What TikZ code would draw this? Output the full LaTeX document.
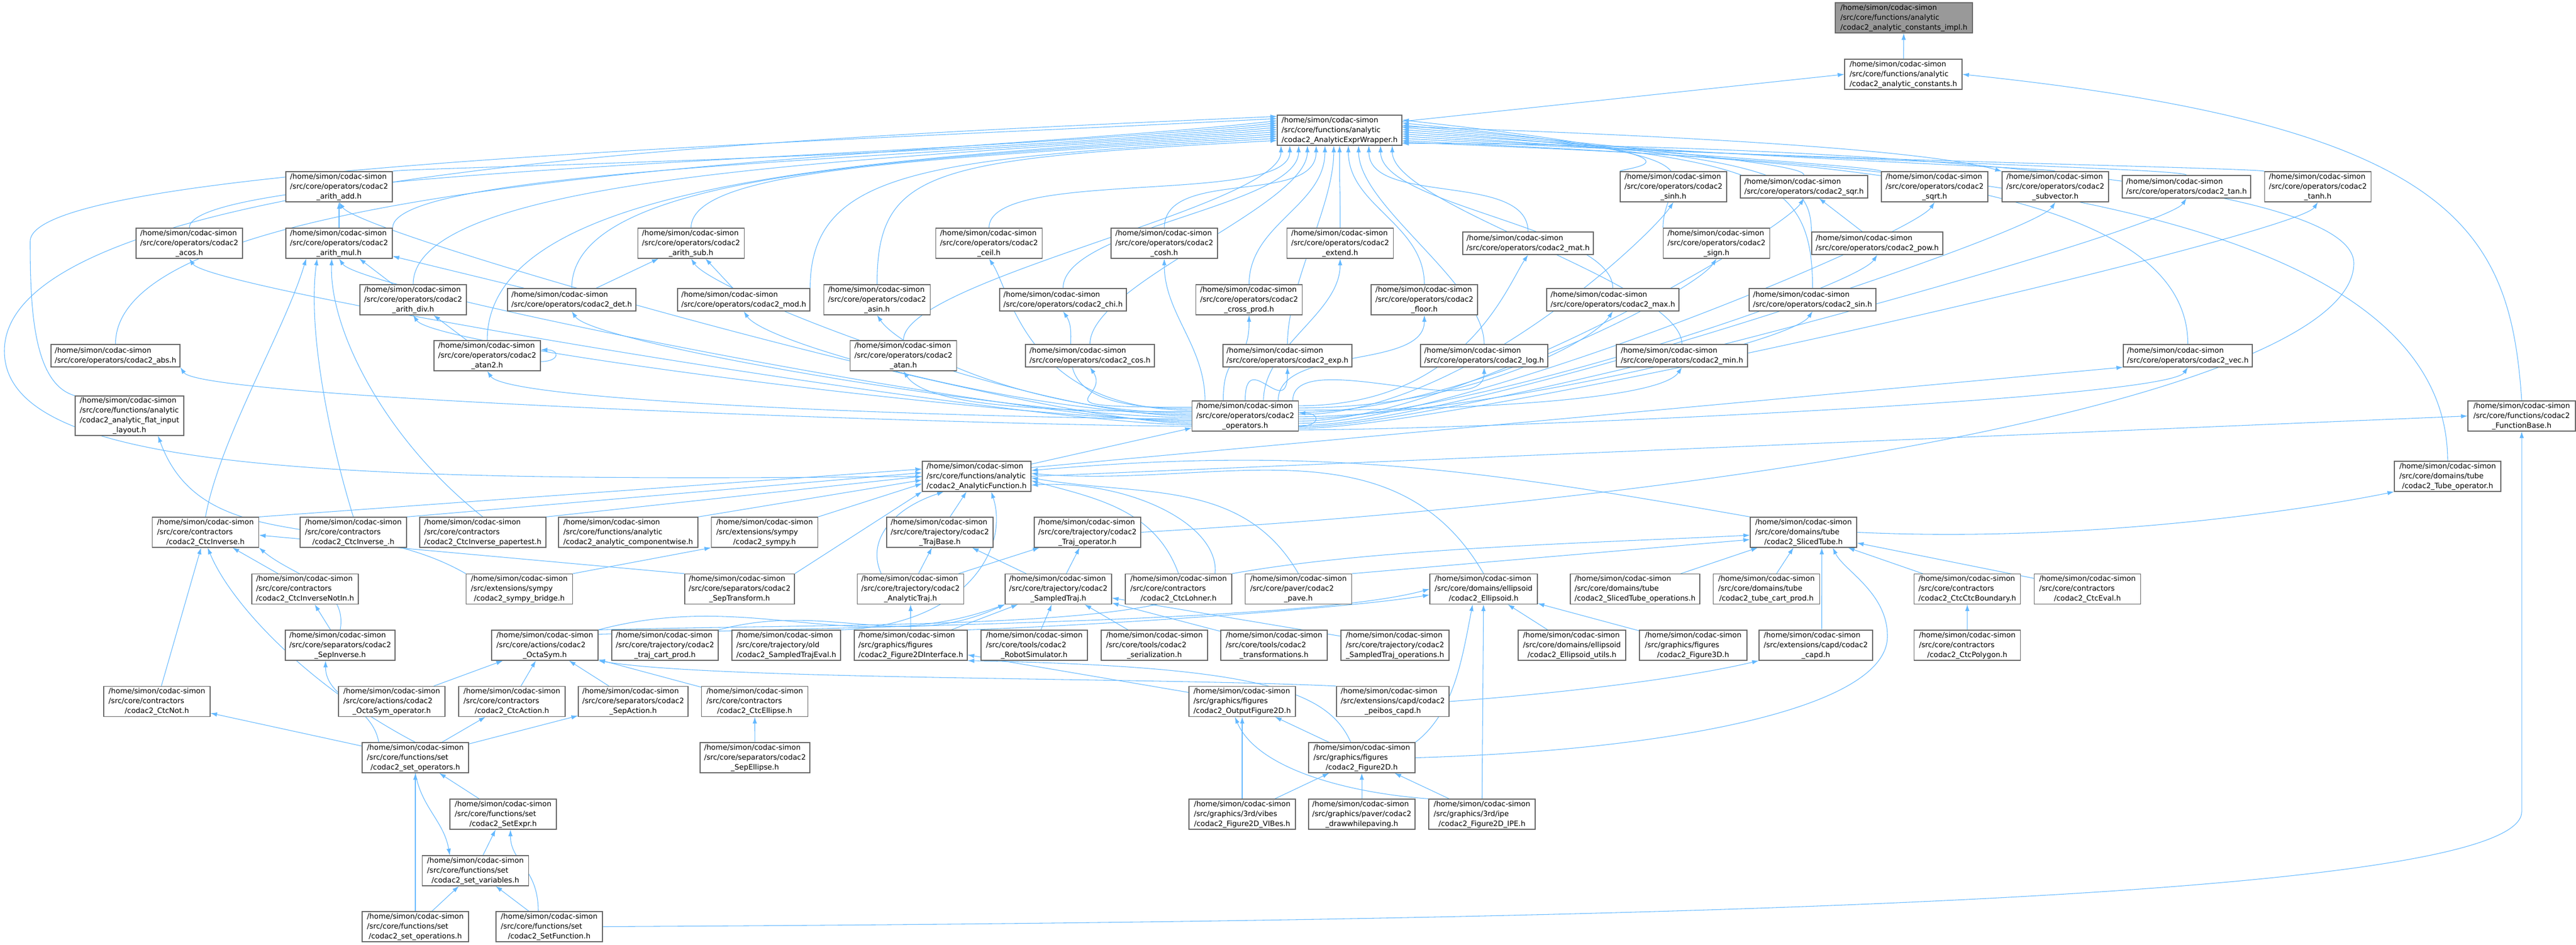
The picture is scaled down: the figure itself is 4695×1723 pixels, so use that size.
\documentclass[tikz,border=0pt]{standalone}
\usepackage{fontspec}
\setmainfont{DejaVu Sans}
\usetikzlibrary{arrows.meta, calc}
\definecolor{depblue}{HTML}{63B8FF}
\definecolor{boxgray}{HTML}{666666}
\newcommand{\depArrow}{{Latex[length=9pt, width=6pt]}}
\newcommand{\codachome}{/home/simon/codac-simon}
\newcommand{\flabel}[2]{\begin{tabular}{@{}l@{}}\codachome\\\detokenize{#1}\\\multicolumn{1}{@{}c@{}}{\detokenize{#2}}\end{tabular}}
\newcommand{\flabelii}[1]{\begin{tabular}{@{}l@{}}\codachome\\\detokenize{#1}\end{tabular}}
\pgfdeclarelayer{edges}
\pgfsetlayers{edges,main}
\tikzset{
	filebox/.style={draw=boxgray, fill=white, line width=0.9pt, inner xsep=2pt, inner ysep=0pt, minimum width=145.5pt, minimum height=41.25pt},
	twoline/.style={minimum height=30.75pt},
	boxw/.style={minimum width=#1*0.75pt},
	current/.style={fill=black!40},
	dep/.style={draw=depblue, line width=0.8pt, -\depArrow},
}

\begin{document}
\begin{tikzpicture}[x=0.75pt, y=-0.75pt, font=\fontsize{10}{13.5}\selectfont]
	\useasboundingbox (0,0) rectangle (4695,1723);

	% analytic core
	\node[filebox, current, boxw=250] (impl) at (3470,32.5) {\flabel{/src/core/functions/analytic}{/codac2_analytic_constants_impl.h}};
	\node[filebox, boxw=214] (consts) at (3469,135.5) {\flabel{/src/core/functions/analytic}{/codac2_analytic_constants.h}};
	\node[filebox, boxw=227] (wrap) at (2441.5,237.5) {\flabel{/src/core/functions/analytic}{/codac2_AnalyticExprWrapper.h}};

	% operators
	\node[filebox] (add) at (618,340.5) {\flabel{/src/core/operators/codac2}{_arith_add.h}};
	\node[filebox] (sinh) at (3050,340.5) {\flabel{/src/core/operators/codac2}{_sinh.h}};
	\node[filebox, twoline, boxw=232] (sqr) at (3288,340.5) {\flabelii{/src/core/operators/codac2_sqr.h}};
	\node[filebox] (sqrt) at (3526,340.5) {\flabel{/src/core/operators/codac2}{_sqrt.h}};
	\node[filebox] (subv) at (3746,340.5) {\flabel{/src/core/operators/codac2}{_subvector.h}};
	\node[filebox, twoline, boxw=234] (tan) at (3985,340.5) {\flabelii{/src/core/operators/codac2_tan.h}};
	\node[filebox] (tanh) at (4224.5,340.5) {\flabel{/src/core/operators/codac2}{_tanh.h}};

	\node[filebox] (acos) at (345,443.5) {\flabel{/src/core/operators/codac2}{_acos.h}};
	\node[filebox] (mul) at (618,443.5) {\flabel{/src/core/operators/codac2}{_arith_mul.h}};
	\node[filebox] (sub) at (1259.5,443.5) {\flabel{/src/core/operators/codac2}{_arith_sub.h}};
	\node[filebox] (ceil) at (1802.5,443.5) {\flabel{/src/core/operators/codac2}{_ceil.h}};
	\node[filebox] (cosh) at (2122,443.5) {\flabel{/src/core/operators/codac2}{_cosh.h}};
	\node[filebox] (extend) at (2442.5,443.5) {\flabel{/src/core/operators/codac2}{_extend.h}};
	\node[filebox, twoline, boxw=238] (mat) at (2785,443.5) {\flabelii{/src/core/operators/codac2_mat.h}};
	\node[filebox] (sign) at (3128.5,443.5) {\flabel{/src/core/operators/codac2}{_sign.h}};
	\node[filebox, twoline, boxw=239] (pow) at (3421.5,443.5) {\flabelii{/src/core/operators/codac2_pow.h}};

	\node[filebox] (div) at (753,546.5) {\flabel{/src/core/operators/codac2}{_arith_div.h}};
	\node[filebox, twoline, boxw=234] (det) at (1042,546.5) {\flabelii{/src/core/operators/codac2_det.h}};
	\node[filebox, twoline, boxw=241] (mod) at (1355.5,546.5) {\flabelii{/src/core/operators/codac2_mod.h}};
	\node[filebox] (asin) at (1598.5,546.5) {\flabel{/src/core/operators/codac2}{_asin.h}};
	\node[filebox, twoline, boxw=231] (chi) at (1937.5,546.5) {\flabelii{/src/core/operators/codac2_chi.h}};
	\node[filebox] (cross) at (2276.5,546.5) {\flabel{/src/core/operators/codac2}{_cross_prod.h}};
	\node[filebox] (floor) at (2596,546.5) {\flabel{/src/core/operators/codac2}{_floor.h}};
	\node[filebox, twoline, boxw=241] (max) at (2939.5,546.5) {\flabelii{/src/core/operators/codac2_max.h}};
	\node[filebox, twoline, boxw=231] (sin) at (3303.5,546.5) {\flabelii{/src/core/operators/codac2_sin.h}};

	\node[filebox, twoline, boxw=235] (abs) at (210.5,648.5) {\flabelii{/src/core/operators/codac2_abs.h}};
	\node[filebox] (atan2) at (888,648.5) {\flabel{/src/core/operators/codac2}{_atan2.h}};
	\node[filebox] (atan) at (1646.5,648.5) {\flabel{/src/core/operators/codac2}{_atan.h}};
	\node[filebox, twoline, boxw=235] (cos) at (1986.5,648.5) {\flabelii{/src/core/operators/codac2_cos.h}};
	\node[filebox, twoline, boxw=235] (exp) at (2346.5,648.5) {\flabelii{/src/core/operators/codac2_exp.h}};
	\node[filebox, twoline, boxw=232] (log) at (2705,648.5) {\flabelii{/src/core/operators/codac2_log.h}};
	\node[filebox, twoline, boxw=239] (min) at (3065.5,648.5) {\flabelii{/src/core/operators/codac2_min.h}};
	\node[filebox, twoline, boxw=235] (vec) at (3987.5,648.5) {\flabelii{/src/core/operators/codac2_vec.h}};

	\node[filebox, boxw=198, minimum height=52.5pt] (flat) at (236,758) {\begin{tabular}{@{}l@{}}\codachome\\/src/core/functions/analytic\\\detokenize{/codac2_analytic_flat_input}\\\multicolumn{1}{@{}c@{}}{\detokenize{_layout.h}}\end{tabular}};
	\node[filebox] (ops) at (2269.5,758.5) {\flabel{/src/core/operators/codac2}{_operators.h}};
	\node[filebox, boxw=196] (fbase) at (4596,758.5) {\flabel{/src/core/functions/codac2}{_FunctionBase.h}};

	\node[filebox, boxw=198] (af) at (1780,868.5) {\flabel{/src/core/functions/analytic}{/codac2_AnalyticFunction.h}};
	\node[filebox] (tubeop) at (4461,868.5) {\flabel{/src/core/domains/tube}{/codac2_Tube_operator.h}};

	% contractors, trajectories, domains
	\node[filebox] (cinv) at (374.5,970.5) {\flabel{/src/core/contractors}{/codac2_CtcInverse.h}};
	\node[filebox] (cinvu) at (644,970.5) {\flabel{/src/core/contractors}{/codac2_CtcInverse_.h}};
	\node[filebox, boxw=230] (paper) at (880,970.5) {\flabel{/src/core/contractors}{/codac2_CtcInverse_papertest.h}};
	\node[filebox, boxw=254] (compw) at (1145,970.5) {\flabel{/src/core/functions/analytic}{/codac2_analytic_componentwise.h}};
	\node[filebox] (sympy) at (1393.5,970.5) {\flabel{/src/extensions/sympy}{/codac2_sympy.h}};
	\node[filebox] (tbase) at (1713,970.5) {\flabel{/src/core/trajectory/codac2}{_TrajBase.h}};
	\node[filebox] (trajop) at (1982,970.5) {\flabel{/src/core/trajectory/codac2}{_Traj_operator.h}};
	\node[filebox] (stube) at (3287,970.5) {\flabel{/src/core/domains/tube}{/codac2_SlicedTube.h}};

	\node[filebox] (cinvnot) at (556,1074) {\flabel{/src/core/contractors}{/codac2_CtcInverseNotIn.h}};
	\node[filebox] (sbridge) at (946.5,1074) {\flabel{/src/extensions/sympy}{/codac2_sympy_bridge.h}};
	\node[filebox, boxw=200] (sept) at (1348,1074) {\flabel{/src/core/separators/codac2}{_SepTransform.h}};
	\node[filebox] (atraj) at (1659.5,1074) {\flabel{/src/core/trajectory/codac2}{_AnalyticTraj.h}};
	\node[filebox] (straj) at (1929,1074) {\flabel{/src/core/trajectory/codac2}{_SampledTraj.h}};
	\node[filebox] (lohner) at (2148,1074) {\flabel{/src/core/contractors}{/codac2_CtcLohner.h}};
	\node[filebox] (pave) at (2366.5,1074) {\flabel{/src/core/paver/codac2}{_pave.h}};
	\node[filebox, boxw=196] (ellip) at (2704,1074) {\flabel{/src/core/domains/ellipsoid}{/codac2_Ellipsoid.h}};
	\node[filebox, boxw=236] (stubeops) at (2980,1074) {\flabel{/src/core/domains/tube}{/codac2_SlicedTube_operations.h}};
	\node[filebox] (tcartp) at (3219.5,1074) {\flabel{/src/core/domains/tube}{/codac2_tube_cart_prod.h}};
	\node[filebox] (cbound) at (3585.5,1074) {\flabel{/src/core/contractors}{/codac2_CtcCtcBoundary.h}};
	\node[filebox] (ceval) at (3804.5,1074) {\flabel{/src/core/contractors}{/codac2_CtcEval.h}};

	\node[filebox, boxw=200] (sepinv) at (620,1176.5) {\flabel{/src/core/separators/codac2}{_SepInverse.h}};
	\node[filebox] (octa) at (993,1176.5) {\flabel{/src/core/actions/codac2}{_OctaSym.h}};
	\node[filebox] (tcart) at (1212,1176.5) {\flabel{/src/core/trajectory/codac2}{_traj_cart_prod.h}};
	\node[filebox, boxw=198] (steval) at (1433,1176.5) {\flabel{/src/core/trajectory/old}{/codac2_SampledTrajEval.h}};
	\node[filebox, boxw=206] (fig2di) at (1660,1176.5) {\flabel{/src/graphics/figures}{/codac2_Figure2DInterface.h}};
	\node[filebox] (robot) at (1885,1176.5) {\flabel{/src/core/tools/codac2}{_RobotSimulator.h}};
	\node[filebox] (serial) at (2104,1176.5) {\flabel{/src/core/tools/codac2}{_serialization.h}};
	\node[filebox] (transf) at (2322,1176.5) {\flabel{/src/core/tools/codac2}{_transformations.h}};
	\node[filebox, boxw=197] (stops) at (2542.5,1176.5) {\flabel{/src/core/trajectory/codac2}{_SampledTraj_operations.h}};
	\node[filebox, boxw=196] (eutils) at (2865,1176.5) {\flabel{/src/core/domains/ellipsoid}{/codac2_Ellipsoid_utils.h}};
	\node[filebox, boxw=196] (fig3d) at (3086,1176.5) {\flabel{/src/graphics/figures}{/codac2_Figure3D.h}};
	\node[filebox, boxw=207] (capd) at (3309.5,1176.5) {\flabel{/src/extensions/capd/codac2}{_capd.h}};
	\node[filebox] (cpoly) at (3585.5,1176.5) {\flabel{/src/core/contractors}{/codac2_CtcPolygon.h}};

	\node[filebox] (ctcnot) at (286,1279) {\flabel{/src/core/contractors}{/codac2_CtcNot.h}};
	\node[filebox] (octaop) at (714,1279) {\flabel{/src/core/actions/codac2}{_OctaSym_operator.h}};
	\node[filebox] (ctcact) at (933,1279) {\flabel{/src/core/contractors}{/codac2_CtcAction.h}};
	\node[filebox, boxw=200] (sepact) at (1154,1279) {\flabel{/src/core/separators/codac2}{_SepAction.h}};
	\node[filebox] (ctcell) at (1375.5,1279) {\flabel{/src/core/contractors}{/codac2_CtcEllipse.h}};
	\node[filebox] (outfig) at (2264,1279) {\flabel{/src/graphics/figures}{/codac2_OutputFigure2D.h}};
	\node[filebox, boxw=205] (peibos) at (2538.5,1279) {\flabel{/src/extensions/capd/codac2}{_peibos_capd.h}};

	\node[filebox] (setops) at (757,1381.5) {\flabel{/src/core/functions/set}{/codac2_set_operators.h}};
	\node[filebox, boxw=200] (sepell) at (1376,1381.5) {\flabel{/src/core/separators/codac2}{_SepEllipse.h}};
	\node[filebox] (fig2d) at (2482,1381.5) {\flabel{/src/graphics/figures}{/codac2_Figure2D.h}};

	\node[filebox] (setexpr) at (917,1484.5) {\flabel{/src/core/functions/set}{/codac2_SetExpr.h}};
	\node[filebox] (vibes) at (2264,1484.5) {\flabel{/src/graphics/3rd/vibes}{/codac2_Figure2D_VIBes.h}};
	\node[filebox] (dwp) at (2482,1484.5) {\flabel{/src/graphics/paver/codac2}{_drawwhilepaving.h}};
	\node[filebox] (ipe) at (2701,1484.5) {\flabel{/src/graphics/3rd/ipe}{/codac2_Figure2D_IPE.h}};

	\node[filebox] (setvars) at (866.5,1587.5) {\flabel{/src/core/functions/set}{/codac2_set_variables.h}};
	\node[filebox] (setopn) at (757,1689.5) {\flabel{/src/core/functions/set}{/codac2_set_operations.h}};
	\node[filebox] (setfunc) at (1001,1689.5) {\flabel{/src/core/functions/set}{/codac2_SetFunction.h}};

	\begin{pgfonlayer}{edges}
		% top of the graph
		\draw[dep] (consts) -- (impl);
		\draw[dep] ([yshift=12pt]wrap.east) -- (consts.west);
		\draw[dep] (fbase.north) .. controls (4575,420) and (4480,230) .. (consts.east);

		% includers of the expression wrapper
		\draw[dep] (flat.north west) .. controls (60,700) and (55,560) .. (55,440) .. controls (55,300) and (1500,260) .. ([yshift=16pt]wrap.west);
		\draw[dep] (af.west) .. controls (600,880) and (8,860) .. (8,640) .. controls (8,300) and (1500,250) .. ([yshift=19pt]wrap.west);
		\foreach \child/\anc/\dy in {abs/north/13, acos/north/10, add/north east/7, mul/north east/4, div/north/1, atan2/north/-2, det/north/-5, sub/north/-8, mod/north east/-11, asin/north/-14} {
			\draw[dep] (\child.\anc) .. controls (\child.\anc |- 0,306) and (1700,290) .. ([yshift=\dy pt]wrap.west);
		}
		\foreach \child/\dx in {atan/-80, ceil/-68, chi/-56, cos/-44, cosh/-32, cross/-20, exp/-8, extend/0, floor/12, log/26, mat/40, max/56, min/72} {
			\draw[dep] (\child.north) .. controls +(0,-110) and +(0,110) .. ([xshift=\dx pt]wrap.south);
		}
		\foreach \child/\anc/\dy in {sinh/north west/14, sign/north west/10, sqr/north/7, pow/north west/4, sin/north/1, subv/north/-2, sqrt/north west/-5, tan/north/-8, tanh/north west/-11, vec/north/-14, tubeop/north/-16} {
			\draw[dep] (\child.\anc) .. controls (\child.\anc |- 0,306) and (3200,290) .. ([yshift=\dy pt]wrap.east);
		}
		\draw[dep] ([yshift=5pt]wrap.east) .. controls (3000,245) and (3500,270) .. (subv.north west);
		\draw[dep] (trajop.east) .. controls (3300,900) and (4290,700) .. (4290,480) .. controls (4290,320) and (3300,262) .. ([yshift=-18pt]wrap.east);

		% the operators header
		\foreach \child/\anc/\dy in {abs/south east/-14, acos/south/-12, add/south/-10, mul/south/-8, div/south/-6, atan2/south/-4, det/south/-2, sub/south/0, mod/south/2, asin/south/4, atan/south/6, ceil/south/8, chi/south/10, cos/south/12} {
			\draw[dep] ([yshift=\dy pt]ops.west) .. controls +(-300,0) and +(40,60) .. (\child.\anc);
		}
		\foreach \child/\dy in {mat/14, max/11, min/8, sign/5, sinh/2, sin/-1, pow/-4, sqr/-7, sqrt/-10, subv/-13, tan/-15, tanh/-17, vec/-19} {
			\draw[dep] ([yshift=\dy pt]ops.east) .. controls +(300,0) and +(-40,60) .. (\child.south);
		}
		\foreach \child/\dx in {cosh/-55, cross/-30, exp/0, extend/25, floor/45, log/65} {
			\draw[dep] ([xshift=\dx pt]ops.north) .. controls +(0,-100) and +(0,100) .. (\child.south);
		}
		\draw[dep] ([yshift=-14pt]ops.east) .. controls +(40,0) and +(40,0) .. ([yshift=4pt]ops.east);

		% arithmetic
		\foreach \child/\parent in {mul/add, div/mul, det/mul, det/sub, mod/sub, atan2/div, pow/sqr} {
			\draw[dep] (\child) -- (\parent);
		}
		\draw[dep] ([yshift=-8pt]atan2.east) .. controls +(35,0) and +(35,0) .. ([yshift=8pt]atan2.east);
		\draw[dep] (cinv.north) .. controls (400,800) and (520,600) .. ([xshift=-45pt]mul.south);
		\draw[dep] (cinvu.north) .. controls (600,800) and (560,600) .. ([xshift=-30pt]mul.south);
		\draw[dep] (paper.north) .. controls (700,800) and (600,600) .. ([xshift=-10pt]mul.south);

		% analytic functions
		\draw[dep] (af) -- (ops);
		\draw[dep] (af.east) -- (fbase.west);
		\draw[dep] ([yshift=12pt]af.east) -- (vec.south west);
		\foreach \child/\dy in {cinv/10, cinvu/5, paper/0, compw/-5, sympy/-10} {
			\draw[dep] (\child.north east) -- ([yshift=\dy pt]af.west);
		}
		\draw[dep] (tbase) -- (af);
		\draw[dep] (sept.north east) -- (af.south west);
		\draw[dep] ([xshift=-40pt]atraj.north) .. controls (1580,990) and (1620,930) .. ([xshift=-45pt]af.south);
		\draw[dep] (steval.north east) .. controls (1760,1140) and (1840,1000) .. ([xshift=20pt]af.south);
		\draw[dep] (octa.north east) .. controls (1600,1135) and (2215,1150) .. (2215,1040) .. controls (2215,950) and (2050,875) .. ([yshift=-12pt]af.east);
		\draw[dep] (lohner.north) to[out=110, in=-15] ([yshift=-6pt]af.east);
		\draw[dep] (pave.north) to[out=120, in=-10] ([yshift=-2pt]af.east);
		\draw[dep] (ellip.north) to[out=120, in=-5] ([yshift=4pt]af.east);
		\draw[dep] (stube.north west) to[out=170, in=5] ([yshift=8pt]af.east);

		% contractors and separators
		\foreach \child/\parent in {ctcnot/cinv, cinvnot/cinv, sepinv/cinvnot, setops/ctcnot, setops/ctcact, setops/sepact, octaop/octa, ctcact/octa, sepact/octa, ctcell/octa, sepell/ctcell, setexpr/setops, setvars/setexpr, setopn/setops, setopn/setvars, setfunc/setvars} {
			\draw[dep] (\child) -- (\parent);
		}
		\draw[dep] (setops.north) .. controls (560,1250) and (420,1100) .. ([xshift=3pt]cinv.south);
		\draw[dep] ([xshift=-50pt]setops.north) to[out=100, in=-90] ([xshift=-20pt]sepinv.south);
		\draw[dep] (sepinv.north) to[out=80, in=-40] (cinv.south east);
		\draw[dep] (sept.north west) -- ([yshift=-4pt]cinv.east);
		\draw[dep] (sbridge.north west) to[out=150, in=-70] ([xshift=39pt]flat.south);
		\draw[dep] (sbridge.north east) -- (sympy.south west);
		\draw[dep] (setops.south) to[out=-80, in=100] ([xshift=-35pt]setvars.north);
		\draw[dep] ([xshift=-15pt]setfunc.north) .. controls +(0,-80) and +(0,60) .. ([xshift=10pt]setexpr.south);
		\draw[dep] (setfunc.east) .. controls (3000,1680) and (4596,1640) .. (4596,1480) -- (fbase.south);
		\draw[dep] (peibos.north west) .. controls (2100,1235) and (1300,1240) .. (octa.south east);

		% trajectories
		\foreach \child/\parent in {atraj/tbase, straj/tbase, atraj/trajop, straj/trajop, fig2di/atraj, fig2di/straj, robot/straj, serial/straj, transf/straj, stops/straj} {
			\draw[dep] (\child) -- (\parent);
		}
		\draw[dep] (octa.north east) to[out=15, in=-160] (straj.south west);
		\draw[dep] (tcart.north east) to[out=15, in=-155] (straj.south west);
		\draw[dep] ([yshift=-6pt]octa.north east) .. controls (1700,1140) and (2400,1130) .. (ellip.west);
		\draw[dep] (fig2di.north east) .. controls (2000,1140) and (2450,1110) .. ([yshift=-8pt]ellip.west);

		% figures and tubes
		\foreach \child/\parent in {outfig/fig2di, fig2d/outfig, vibes/outfig, vibes/fig2d, dwp/fig2d, ipe/fig2d, ipe/ellip, eutils/ellip, fig3d/ellip, cpoly/cbound, stubeops/stube, tcartp/stube, cbound/stube, ceval/stube} {
			\draw[dep] (\child) -- (\parent);
		}
		\draw[dep] ([xshift=8pt]capd.north) -- ([xshift=25pt]stube.south);
		\draw[dep] (fig2d.east) .. controls (3000,1370) and (3440,1300) .. (3440,1160) .. controls (3440,1080) and (3360,1040) .. ([xshift=40pt]stube.south);
		\draw[dep] ([xshift=-15pt]fig2d.north) .. controls (2420,1260) and (2300,1215) .. (fig2di.south east);
		\draw[dep] (ipe.north west) .. controls (2450,1445) and (2290,1400) .. ([xshift=-10pt]outfig.south);
		\draw[dep] (fig2d.north east) .. controls (2650,1300) and (2665,1200) .. ([xshift=-15pt]ellip.south);
		\draw[dep] (stube.east) .. controls (3800,990) and (4200,930) .. (tubeop.south west);
		\draw[dep] (lohner.north east) .. controls (2500,1000) and (2900,990) .. ([yshift=-4pt]stube.west);
		\draw[dep] (pave.north east) -- ([yshift=-10pt]stube.west);
		\draw[dep] (peibos.east) .. controls (2900,1260) and (3100,1230) .. (capd.south west);
	\end{pgfonlayer}
\end{tikzpicture}
\end{document}
